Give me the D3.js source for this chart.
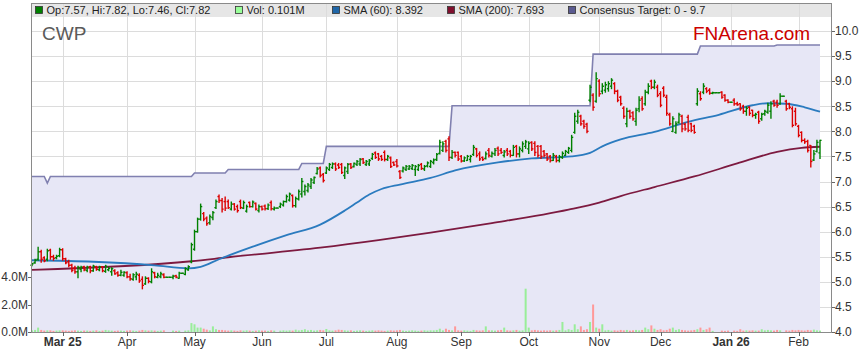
<!DOCTYPE html>
<html><head><meta charset="utf-8">
<script src="https://cdn.jsdelivr.net/npm/d3@7"></script>
<style>body{margin:0;background:#fff;} svg{display:block;font-family:Arial,"Liberation Sans",sans-serif;}</style>
</head><body><svg id="c" width="859" height="363"></svg>
<script>
// ---------------- DATA ----------------
const ticker = "CWP";
const firstDay = [2025, 1, 17];   // 17 Feb 2025 (weekday series)
const lastDay  = [2026, 1, 11];   // 11 Feb 2026

// daily OHLC [open, high, low, close]
const ohlc = [
[5.33,5.37,5.32,5.36],[5.38,5.45,5.37,5.43],[5.45,5.69,5.43,5.60],[5.60,5.63,5.39,5.45],[5.48,5.50,5.40,5.42],
[5.45,5.65,5.42,5.62],[5.63,5.65,5.45,5.50],[5.50,5.53,5.43,5.47],[5.48,5.53,5.46,5.51],[5.52,5.67,5.50,5.64],
[5.64,5.66,5.43,5.46],[5.46,5.47,5.36,5.38],[5.40,5.43,5.30,5.33],[5.33,5.35,5.20,5.23],[5.27,5.31,5.17,5.20],
[5.20,5.31,5.08,5.29],[5.25,5.31,5.20,5.29],[5.30,5.31,5.22,5.24],[5.23,5.31,5.20,5.29],[5.30,5.31,5.18,5.22],
[5.22,5.33,5.21,5.31],[5.30,5.31,5.23,5.25],[5.24,5.31,5.22,5.30],[5.30,5.30,5.20,5.22],[5.21,5.33,5.19,5.31],
[5.24,5.29,5.22,5.27],[5.20,5.28,5.13,5.26],[5.22,5.24,5.15,5.16],[5.18,5.20,5.11,5.13],[5.13,5.23,5.12,5.19],
[5.13,5.20,5.11,5.19],[5.18,5.20,5.08,5.10],[5.10,5.15,5.03,5.06],[5.05,5.16,5.03,5.14],[5.10,5.19,5.04,5.15],
[5.13,5.16,4.99,5.02],[5.05,5.10,4.86,4.93],[4.96,5.10,4.95,5.07],[5.07,5.08,4.98,5.01],[5.00,5.26,4.98,5.20],
[5.18,5.19,5.08,5.10],[5.09,5.17,5.08,5.13],[5.10,5.19,5.08,5.16],[5.14,5.16,5.08,5.09],[5.09,5.09,5.09,5.09],
[5.09,5.09,5.09,5.09],[5.09,5.13,5.06,5.11],[5.12,5.13,5.08,5.09],[5.07,5.19,5.07,5.17],[5.17,5.17,5.17,5.17],
[5.15,5.28,5.14,5.26],[5.24,5.32,5.23,5.30],[5.40,5.77,5.38,5.74],[5.65,6.03,5.63,6.00],[6.00,6.27,5.99,6.25],
[6.25,6.55,6.23,6.50],[6.36,6.38,6.22,6.25],[6.27,6.29,6.13,6.16],[6.18,6.33,6.15,6.30],[6.28,6.40,6.24,6.38],
[6.48,6.63,6.46,6.60],[6.70,6.73,6.58,6.62],[6.62,6.66,6.39,6.45],[6.60,6.69,6.42,6.47],[6.60,6.63,6.46,6.48],
[6.45,6.59,6.43,6.55],[6.55,6.56,6.43,6.45],[6.50,6.53,6.39,6.42],[6.60,6.63,6.46,6.48],[6.47,6.61,6.46,6.58],
[6.41,6.53,6.39,6.50],[6.58,6.59,6.49,6.50],[6.50,6.61,6.49,6.59],[6.56,6.57,6.43,6.45],[6.42,6.53,6.39,6.50],
[6.50,6.51,6.43,6.45],[6.51,6.53,6.43,6.46],[6.46,6.55,6.44,6.53],[6.58,6.61,6.43,6.46],[6.45,6.49,6.43,6.47],
[6.47,6.47,6.47,6.47],[6.50,6.57,6.48,6.55],[6.53,6.61,6.51,6.60],[6.60,6.73,6.59,6.70],[6.63,6.77,6.61,6.75],
[6.72,6.73,6.49,6.52],[6.52,6.69,6.49,6.66],[6.65,6.83,6.63,6.80],[6.75,7.06,6.69,7.00],[6.80,6.93,6.73,6.90],
[6.82,6.96,6.79,6.93],[6.90,7.06,6.86,7.03],[6.98,7.09,6.96,7.08],[7.16,7.28,7.15,7.25],[7.27,7.29,7.09,7.12],
[7.14,7.16,6.99,7.02],[7.17,7.29,7.16,7.27],[7.24,7.36,7.22,7.34],[7.28,7.37,7.26,7.35],[7.35,7.37,7.22,7.25],
[7.33,7.36,7.26,7.28],[7.34,7.36,7.16,7.18],[7.12,7.29,7.06,7.27],[7.20,7.36,7.16,7.34],[7.35,7.36,7.26,7.28],
[7.30,7.37,7.29,7.36],[7.34,7.42,7.32,7.40],[7.35,7.46,7.32,7.44],[7.45,7.46,7.36,7.38],[7.34,7.42,7.32,7.40],
[7.35,7.44,7.32,7.42],[7.46,7.56,7.44,7.54],[7.57,7.59,7.46,7.48],[7.55,7.56,7.42,7.45],[7.50,7.52,7.42,7.44],
[7.58,7.61,7.41,7.44],[7.44,7.52,7.42,7.50],[7.47,7.49,7.28,7.30],[7.38,7.39,7.32,7.33],[7.40,7.44,7.29,7.31],
[7.20,7.22,7.06,7.08],[7.21,7.29,7.19,7.27],[7.24,7.32,7.22,7.30],[7.25,7.32,7.24,7.30],[7.26,7.34,7.24,7.32],
[7.24,7.32,7.12,7.30],[7.24,7.34,7.22,7.32],[7.34,7.36,7.24,7.26],[7.25,7.32,7.22,7.30],[7.31,7.39,7.29,7.37],
[7.30,7.42,7.28,7.40],[7.38,7.45,7.35,7.43],[7.44,7.56,7.42,7.54],[7.56,7.82,7.55,7.78],[7.62,7.79,7.60,7.75],
[7.80,7.82,7.59,7.62],[7.85,7.89,7.42,7.48],[7.48,7.62,7.46,7.58],[7.58,7.59,7.49,7.52],[7.58,7.59,7.42,7.45],
[7.50,7.52,7.39,7.41],[7.41,7.49,7.40,7.47],[7.42,7.52,7.42,7.50],[7.44,7.52,7.39,7.50],[7.54,7.72,7.52,7.68],
[7.65,7.66,7.49,7.52],[7.55,7.59,7.42,7.45],[7.48,7.49,7.42,7.44],[7.46,7.59,7.45,7.55],[7.62,7.66,7.49,7.52],
[7.50,7.59,7.49,7.56],[7.55,7.66,7.52,7.62],[7.66,7.69,7.52,7.55],[7.62,7.66,7.56,7.58],[7.52,7.62,7.49,7.59],
[7.62,7.66,7.52,7.55],[7.60,7.62,7.49,7.52],[7.52,7.72,7.52,7.68],[7.70,7.72,7.49,7.55],[7.55,7.69,7.49,7.65],
[7.62,7.79,7.59,7.75],[7.70,7.82,7.66,7.79],[7.65,7.79,7.56,7.76],[7.78,7.79,7.62,7.65],[7.76,7.79,7.52,7.58],
[7.70,7.72,7.49,7.52],[7.70,7.72,7.46,7.50],[7.60,7.62,7.49,7.52],[7.55,7.56,7.42,7.45],[7.50,7.52,7.39,7.42],
[7.42,7.56,7.42,7.52],[7.50,7.52,7.39,7.42],[7.42,7.52,7.39,7.49],[7.48,7.59,7.46,7.56],[7.52,7.62,7.52,7.60],
[7.58,7.68,7.56,7.66],[7.62,7.92,7.59,7.88],[7.98,8.36,7.96,8.30],[8.20,8.42,8.16,8.38],[8.30,8.32,8.12,8.15],
[8.20,8.22,8.06,8.10],[8.14,8.16,7.97,8.00],[8.62,8.92,8.59,8.88],[8.72,8.75,8.42,8.48],[8.60,9.17,8.58,9.05],
[9.00,9.03,8.70,8.75],[8.80,8.95,8.75,8.90],[8.82,8.98,8.78,8.93],[8.85,8.99,8.80,8.95],[8.90,9.05,8.85,9.02],
[8.95,8.97,8.75,8.80],[8.80,8.82,8.59,8.62],[8.68,8.70,8.52,8.55],[8.46,8.49,8.26,8.30],[8.15,8.46,8.09,8.40],
[8.40,8.42,8.26,8.30],[8.37,8.39,8.22,8.25],[8.20,8.46,8.12,8.42],[8.45,8.69,8.39,8.62],[8.65,8.69,8.42,8.45],
[8.55,8.82,8.52,8.78],[8.78,8.95,8.75,8.90],[9.00,9.02,8.85,8.88],[8.88,9.02,8.85,8.98],[8.88,8.92,8.69,8.72],
[8.75,8.79,8.49,8.52],[8.86,8.89,8.69,8.72],[8.68,8.72,8.32,8.36],[8.33,8.36,8.12,8.15],[8.00,8.29,7.99,8.25],
[7.98,8.19,7.96,8.15],[8.18,8.36,8.16,8.33],[8.30,8.32,7.99,8.05],[8.14,8.16,8.02,8.05],[8.28,8.32,7.99,8.02],
[8.15,8.16,7.99,8.02],[8.10,8.12,7.96,7.98],[8.55,8.85,8.52,8.80],[8.75,8.79,8.62,8.65],[8.78,8.95,8.75,8.90],
[8.85,8.87,8.77,8.80],[8.82,8.85,8.74,8.76],[8.76,8.78,8.75,8.77],[8.77,8.77,8.77,8.77],[8.77,8.77,8.77,8.77],
[8.78,8.79,8.66,8.68],[8.72,8.73,8.60,8.62],[8.62,8.63,8.57,8.58],[8.58,8.58,8.58,8.58],[8.62,8.65,8.52,8.55],
[8.55,8.58,8.52,8.53],[8.55,8.55,8.42,8.45],[8.50,8.52,8.36,8.40],[8.40,8.49,8.32,8.46],[8.48,8.49,8.32,8.36],
[8.42,8.42,8.29,8.32],[8.32,8.36,8.26,8.34],[8.38,8.40,8.16,8.20],[8.25,8.36,8.22,8.34],[8.35,8.42,8.32,8.40],
[8.38,8.56,8.36,8.52],[8.40,8.59,8.26,8.55],[8.60,8.62,8.50,8.52],[8.58,8.62,8.48,8.52],[8.55,8.75,8.54,8.70],
[8.70,8.70,8.70,8.70],[8.60,8.62,8.42,8.45],[8.55,8.56,8.45,8.48],[8.45,8.49,8.09,8.12],[8.40,8.46,8.12,8.15],
[8.10,8.12,7.89,7.92],[7.98,7.99,7.79,7.82],[7.82,7.85,7.76,7.79],[7.80,7.82,7.59,7.62],[7.72,7.72,7.29,7.40],
[7.43,7.62,7.42,7.55],[7.60,7.82,7.59,7.78],[7.57,7.82,7.46,7.82]
];

// daily volume, millions of shares
const volume = [
0.12,0.15,0.32,0.15,0.10,0.12,0.12,0.08,0.10,0.12,
0.12,0.10,0.08,0.10,0.12,0.10,0.08,0.10,0.10,0.08,
0.10,0.12,0.08,0.10,0.15,0.12,0.10,0.08,0.10,0.10,
0.08,0.10,0.12,0.10,0.08,0.10,0.15,0.12,0.10,0.12,
0.10,0.08,0.10,0.12,0,0,0.10,0.08,0.10,0,
0.10,0.12,0.65,0.56,0.32,0.32,0.24,0.17,0.12,0.41,
0.20,0.15,0.15,0.12,0.10,0.12,0.10,0.08,0.12,0.10,
0.12,0.10,0.08,0.10,0.12,0.10,0.10,0.08,0.12,0.10,
0,0.10,0.12,0.10,0.12,0.10,0.17,0.12,0.15,0.20,
0.12,0.15,0.10,0.12,0.15,0.12,0.22,0.12,0.10,0.12,
0.17,0.15,0.12,0.10,0.12,0.08,0.10,0.12,0.10,0.08,
0.10,0.12,0.10,0.12,0.10,0.08,0.10,0.12,0.10,0.12,
0.15,0.10,0.08,0.10,0.12,0.10,0.08,0.10,0.12,0.10,
0.12,0.12,0.15,0.24,0.12,0.24,0.15,0.12,0.41,0.12,
0.10,0.12,0.10,0.08,0.15,0.12,0.10,0.12,0.41,0.12,
0.12,0.10,0.12,0.15,0.32,0.12,0.10,0.12,0.15,0.10,
0.12,3.15,0.32,0.12,0.15,0.12,0.10,0.12,0.10,0.12,
0.10,0.12,0.15,0.73,0.12,0.20,0.15,0.56,0.20,0.41,
0.15,0.20,0.73,2.00,0.32,0.24,0.56,0.12,0.15,0.10,
0.12,0.10,0.15,0.12,0.15,0.10,0.12,0.15,0.12,0.15,
0.32,0.20,0.48,0.24,0.15,0.20,0.12,0.15,0.24,0.32,
0.15,0.20,0.15,0.12,0.10,0.12,0.15,0.20,0.32,0.15,
0.20,0.32,0.08,0,0,0.10,0.08,0.10,0,0.10,
0.08,0.20,0.10,0.12,0.10,0.12,0.10,0.10,0.20,0.12,
0.15,0.12,0.10,0.15,0.12,0,0.12,0.10,0.15,0.12,
0.15,0.12,0.10,0.15,0.12,0.17,0.12,0.101
];

// moving averages (bar index -> value)
const sma60Idx = [0,20,40,51,55,61,72,83,94,102,106,110,114,120,130,138,152,163,176,182,186,192,203,214,224,235,240,246,252,257];
const sma60Val = [5.43,5.40,5.33,5.27,5.30,5.45,5.70,5.93,6.14,6.42,6.58,6.74,6.85,6.94,7.07,7.22,7.38,7.46,7.50,7.57,7.70,7.84,7.99,8.19,8.33,8.52,8.56,8.55,8.48,8.392];
const sma200Idx = [0,52,64,94,113,130,150,175,185,192,203,216,230,243,251,257];
const sma200Val = [5.24,5.41,5.49,5.68,5.83,5.98,6.17,6.44,6.58,6.71,6.89,7.10,7.36,7.59,7.67,7.693];

// consensus target: value from bar index onward
const targetIdx = [0,5,6,53,64,88,96,137,183,218,243];
const targetVal = [7.10,6.97,7.10,7.17,7.24,7.36,7.70,8.51,9.54,9.70,9.72];
const targetLabel = "Consensus Target: 0 - 9.7";

const priceTicks = [4.0,4.5,5.0,5.5,6.0,6.5,7.0,7.5,8.0,8.5,9.0,9.5,10.0];
const volTicks = [0,2,4];

// ---------------- CHART ----------------
const svg = d3.select("#c");
const L = 31, R = 831, T = 3, B = 332;
const col = {up:"#008000", down:"#dd0000", volUp:"#99ee99", volDown:"#ff9999", volFlat:"#888888",
  sma60:"#2b7bbf", sma200:"#7d1a40", target:"#8080b0", targetFill:"#e7e7f6", grid:"#dcdcdc", frame:"#8a8a8a"};

const days = d3.timeDay.range(new Date(...firstDay), d3.timeDay.offset(new Date(...lastDay),1))
  .filter(d => d.getDay() !== 0 && d.getDay() !== 6);
const N = ohlc.length;
const x = d3.scaleLinear().domain([0, N-1]).range([32, 820]);
const y = d3.scaleLinear().domain([4, 10]).range([332, 31]);
const yv = d3.scaleLinear().domain([0, 4]).range([332, 277]);

// month ticks
const monthTicks = [];
days.forEach((d,i) => { if (i>0 && d.getMonth() !== days[i-1].getMonth()) monthTicks.push(i); });

svg.append("rect").attr("width",859).attr("height",363).attr("fill","#fff");
// legend band
svg.append("rect").attr("x",L).attr("y",T).attr("width",R-L).attr("height",14).attr("fill","#e6e6e6");

// grid
const g = svg.append("g");
g.selectAll(".hg").data(priceTicks).join("line")
  .attr("x1",L).attr("x2",R).attr("y1",d=>Math.round(y(d))+0.5).attr("y2",d=>Math.round(y(d))+0.5)
  .attr("stroke",col.grid).attr("stroke-width",1);
g.selectAll(".vg").data(monthTicks).join("line")
  .attr("x1",d=>Math.round(x(d))+0.5).attr("x2",d=>Math.round(x(d))+0.5).attr("y1",T).attr("y2",B)
  .attr("stroke",col.grid).attr("stroke-width",1);

// target series (step, held from each change index)
const target = d3.range(N).map(i => targetVal[d3.bisectRight(targetIdx, i) - 1]);
svg.append("path").datum(target)
  .attr("d", d3.area().x((d,i)=>x(i)).y0(B).y1(d=>y(d)))
  .attr("fill", col.targetFill);
svg.append("path").datum(target)
  .attr("d", d3.line().x((d,i)=>x(i)).y(d=>y(d)))
  .attr("fill","none").attr("stroke",col.target).attr("stroke-width",1.6);

// volume
const vcol = d => d[0][3] > d[0][0] ? col.volUp : (d[0][3] < d[0][0] ? col.volDown : col.volFlat);
svg.append("g").selectAll("rect").data(ohlc.map((d,i)=>[d,volume[i],i])).join("rect")
  .attr("x", d=>x(d[2])-1).attr("width",2)
  .attr("y", d=>yv(d[1])).attr("height", d=>B - yv(d[1]))
  .attr("fill", vcol);

// SMA lines
const smaLine = d3.line().x(d=>x(d[0])).y(d=>y(d[1])).curve(d3.curveMonotoneX);
svg.append("path").datum(sma200Idx.map((d,i)=>[d,sma200Val[i]]))
  .attr("d", smaLine).attr("fill","none").attr("stroke",col.sma200).attr("stroke-width",1.8);
svg.append("path").datum(sma60Idx.map((d,i)=>[d,sma60Val[i]]))
  .attr("d", smaLine).attr("fill","none").attr("stroke",col.sma60).attr("stroke-width",1.8);

// OHLC bars
const bars = svg.append("g").selectAll("g").data(ohlc).join("g")
  .attr("stroke", d => d[3] >= d[0] ? col.up : col.down).attr("stroke-width",1.4);
bars.append("line").attr("x1",(d,i)=>x(i)).attr("x2",(d,i)=>x(i))
  .attr("y1",d=>y(d[1])-0.5).attr("y2",d=>y(d[2])+0.5);
bars.append("line").attr("x1",(d,i)=>x(i)-1.6).attr("x2",(d,i)=>x(i))
  .attr("y1",d=>y(d[0])).attr("y2",d=>y(d[0]));
bars.append("line").attr("x1",(d,i)=>x(i)).attr("x2",(d,i)=>x(i)+1.6)
  .attr("y1",d=>y(d[3])).attr("y2",d=>y(d[3]));

// frame
svg.append("line").attr("x1",L+0.5).attr("x2",L+0.5).attr("y1",T).attr("y2",B).attr("stroke",col.frame);
svg.append("line").attr("x1",R+0.5).attr("x2",R+0.5).attr("y1",T).attr("y2",B+0.5).attr("stroke",col.frame);
svg.append("line").attr("x1",L).attr("x2",R+1).attr("y1",T+0.5).attr("y2",T+0.5).attr("stroke",col.frame);
svg.append("line").attr("x1",L).attr("x2",R+1).attr("y1",B+0.5).attr("y2",B+0.5).attr("stroke",col.frame);

// right price axis
const ra = svg.append("g");
ra.selectAll("line").data(priceTicks).join("line")
  .attr("x1",R+1).attr("x2",R+4).attr("y1",d=>Math.round(y(d))+0.5).attr("y2",d=>Math.round(y(d))+0.5).attr("stroke","#666");
ra.selectAll("text").data(priceTicks).join("text")
  .attr("x",R+4).attr("y",d=>y(d)).attr("dy","0.36em").attr("font-size",12).attr("fill","#333")
  .text(d=>d3.format(".1f")(d));

// left volume axis
const la = svg.append("g");
la.selectAll("line").data(volTicks).join("line")
  .attr("x1",L-3).attr("x2",L).attr("y1",d=>Math.round(yv(d))+0.5).attr("y2",d=>Math.round(yv(d))+0.5).attr("stroke","#666");
la.selectAll("text").data(volTicks).join("text")
  .attr("x",L-3).attr("y",d=>yv(d)).attr("dy","0.36em").attr("text-anchor","end").attr("font-size",12).attr("fill","#333")
  .text(d=>d3.format(".1f")(d)+"M");

// bottom month axis
const ba = svg.append("g");
ba.selectAll("line").data(monthTicks).join("line")
  .attr("x1",d=>Math.round(x(d))+0.5).attr("x2",d=>Math.round(x(d))+0.5).attr("y1",B).attr("y2",B+4).attr("stroke","#666");
ba.selectAll("text").data(monthTicks).join("text")
  .attr("x",d=>x(d)).attr("y",346).attr("text-anchor","middle").attr("font-size",12).attr("fill","#333")
  .attr("font-weight",(d,k)=> (k===0 || days[d].getMonth()===0) ? "bold" : "normal")
  .text((d,k)=> (k===0 || days[d].getMonth()===0) ? d3.timeFormat("%b %y")(days[d]) : d3.timeFormat("%b")(days[d]));

// titles
svg.append("text").attr("x",42).attr("y",40).attr("font-size",19).attr("fill","#5a5a5a").text(ticker);
svg.append("text").attr("x",693).attr("y",40).attr("font-size",19).attr("fill","#cc0000").text("FNArena.com");

// legend
const last = ohlc[N-1];
const legend = [
  {x:35, c:col.up, t:`Op:${last[0].toFixed(2)}, Hi:${last[1].toFixed(2)}, Lo:${last[2].toFixed(2)}, Cl:${last[3].toFixed(2)}`},
  {x:235, c:"#99ff99", t:`Vol: ${volume[N-1].toFixed(3)}M`},
  {x:332, c:"#1f66a8", t:`SMA (60): ${sma60Val[sma60Val.length-1].toFixed(3)}`},
  {x:447, c:"#80102e", t:`SMA (200): ${sma200Val[sma200Val.length-1].toFixed(3)}`},
  {x:568, c:"#5a5a90", t:targetLabel}
];
const lg = svg.append("g").selectAll("g").data(legend).join("g");
lg.append("rect").attr("x",d=>d.x+0.5).attr("y",6.5).attr("width",7).attr("height",7)
  .attr("fill",d=>d.c).attr("stroke","#333").attr("stroke-width",0.8);
lg.append("text").attr("x",d=>d.x+11.5).attr("y",14).attr("font-size",11).attr("fill","#222").text(d=>d.t);
</script></body></html>
